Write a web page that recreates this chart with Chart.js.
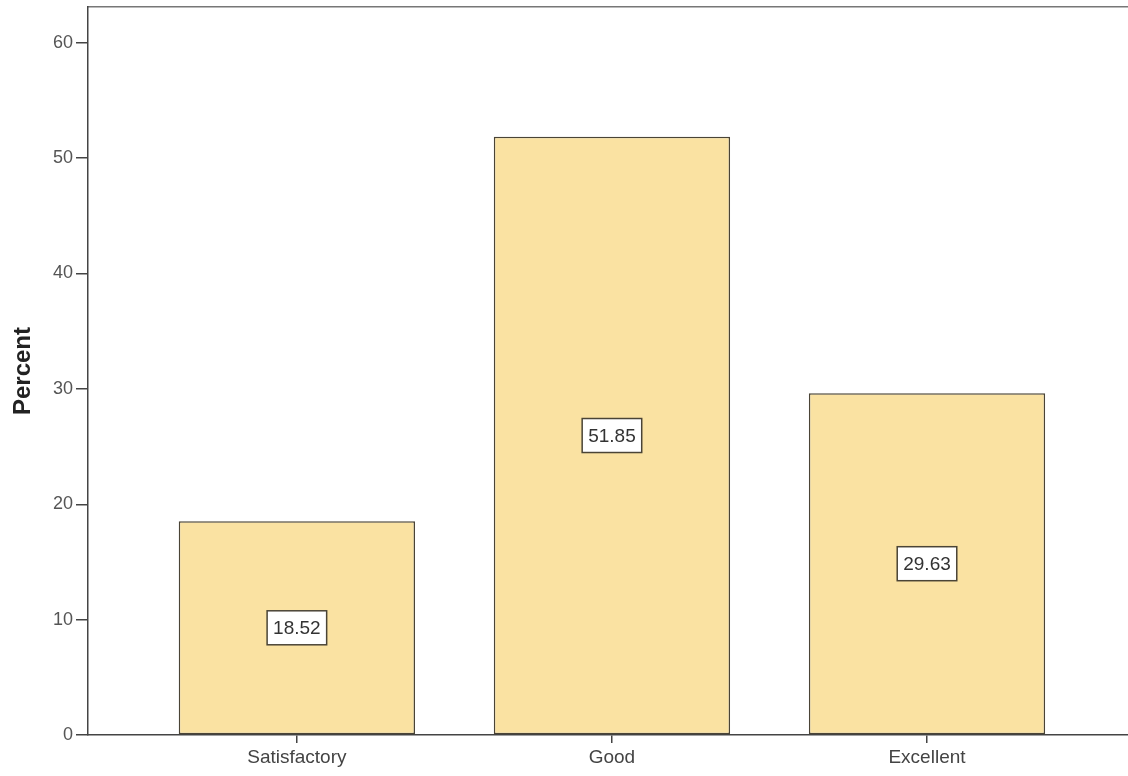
<!doctype html>
<html lang="en">
<head>
  <meta charset="utf-8">
  <title>Percent bar chart</title>
  <script src="https://cdn.jsdelivr.net/npm/chart.js@4.4.1/dist/chart.umd.min.js"></script>
  <style>
    body { margin: 0; background: #fff; }
    .wrap { width: 1128px; height: 776px; }
  </style>
</head>
<body>
  <div class="wrap">
    <canvas id="myChart" width="1128" height="776"></canvas>
  </div>
  <script>
    // chart data
    const categories = ['Satisfactory', 'Good', 'Excellent'];
    const percentValues = [18.52, 51.85, 29.63];
    const yTicks = [0, 10, 20, 30, 40, 50, 60];

    const FONT = "'Liberation Sans', Arial, sans-serif";

    // white value boxes in the middle of each bar
    const boxLabels = {
      id: 'boxLabels',
      afterDatasetsDraw(chart) {
        const ctx = chart.ctx;
        const meta = chart.getDatasetMeta(0);
        ctx.save();
        ctx.font = '19px ' + FONT;
        ctx.textAlign = 'center';
        ctx.textBaseline = 'middle';
        meta.data.forEach(function (bar, i) {
          const txt = percentValues[i].toFixed(2);
          const cy = (bar.y + bar.base) / 2;
          const w = ctx.measureText(txt).width + 12;
          const h = 34;
          ctx.fillStyle = '#ffffff';
          ctx.fillRect(bar.x - w / 2, cy - h / 2, w, h);
          ctx.strokeStyle = '#4a4436';
          ctx.lineWidth = 1.5;
          ctx.strokeRect(bar.x - w / 2, cy - h / 2, w, h);
          ctx.fillStyle = '#333333';
          ctx.fillText(txt, bar.x, cy + 1);
        });
        ctx.restore();
      }
    };

    const ctx = document.getElementById('myChart').getContext('2d');
    const myChart = new Chart(ctx, {
      type: 'bar',
      data: {
        datasets: [{
          label: 'Percent',
          data: categories.map(function (c, i) { return { x: i, y: percentValues[i] }; }),
          backgroundColor: '#fae2a2',
          borderColor: '#4a4436',
          borderWidth: 1.5,
          borderSkipped: false,
          barPercentage: 0.75,
          categoryPercentage: 1,
          xAxisID: 'x',
          yAxisID: 'y'
        }]
      },
      plugins: [boxLabels],
      options: {
        responsive: false,
        animation: false,
        layout: { padding: { top: 7, right: 0, bottom: 0, left: 0 } },
        plugins: {
          legend: { display: false },
          tooltip: { enabled: false }
        },
        scales: {
          x: {
            type: 'linear',
            position: 'bottom',
            offset: false,
            min: -0.663,
            max: 2.638,
            afterBuildTicks: function (scale) {
              scale.ticks = categories.map(function (c, i) { return { value: i }; });
            },
            afterFit: function (scale) {
              scale.height = 41;
              scale.paddingLeft = 0;
              scale.paddingRight = 0;
            },
            ticks: {
              callback: function (v) { return categories[v]; },
              color: '#444',
              font: { family: FONT, size: 19 },
              padding: 3,
              maxRotation: 0,
              autoSkip: false
            },
            grid: { offset: false, drawOnChartArea: false, tickLength: 8, color: '#444', lineWidth: 1.5 },
            border: { display: true, color: '#444', width: 1.5 }
          },
          xTop: {
            type: 'linear',
            position: 'top',
            offset: false,
            min: 0,
            max: 1,
            afterFit: function (scale) { scale.height = 0; },
            ticks: { display: false },
            grid: { display: false },
            border: { display: true, color: '#777', width: 1.5 }
          },
          y: {
            min: 0,
            max: 63.1,
            afterBuildTicks: function (scale) {
              scale.ticks = yTicks.map(function (v) { return { value: v }; });
            },
            afterFit: function (scale) {
              scale.width = 88;
              scale.paddingTop = 0;
              scale.paddingBottom = 0;
            },
            title: {
              display: true,
              text: 'Percent',
              color: '#222',
              font: { family: FONT, size: 24, weight: 'bold' },
              padding: { top: 9, bottom: 0 }
            },
            ticks: {
              color: '#555',
              font: { family: FONT, size: 18 },
              padding: 3
            },
            grid: { drawOnChartArea: false, tickLength: 12, color: '#444', lineWidth: 1.5 },
            border: { display: true, color: '#444', width: 1.5 }
          }
        }
      }
    });
  </script>
</body>
</html>
